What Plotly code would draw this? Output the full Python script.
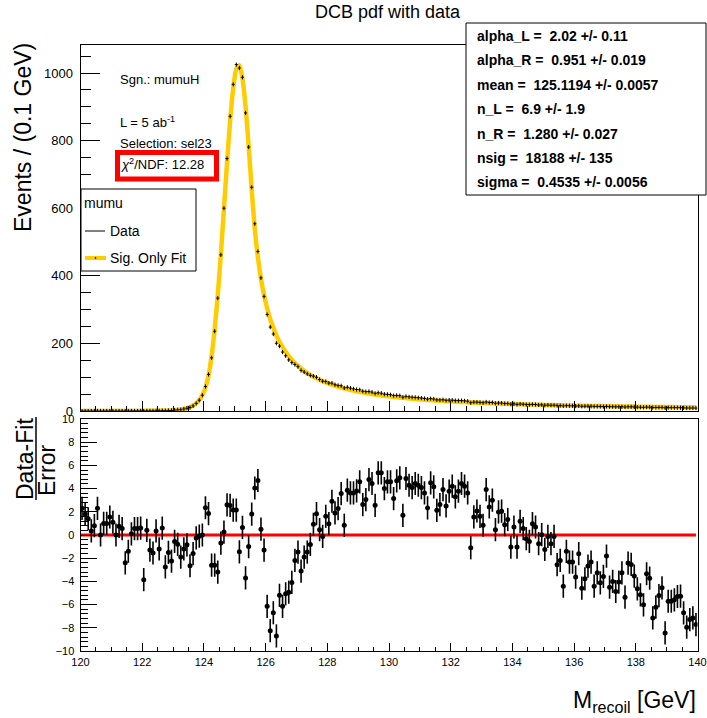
import plotly.graph_objects as go

W, H = 707, 718


def px(x):
    return x / W


def py(y):
    return 1 - y / H


# ---------------- data ----------------
BIN_LO = 120.0
BIN_W = 0.1
NBINS = 200
bin_centers = [round(BIN_LO + BIN_W * (i + 0.5), 3) for i in range(NBINS)]

data_counts = [
    0.05, 0.05, 0.05, 0.04, 0.05, 0.07, 0.05, 0.07, 0.08, 0.1,
    0.1, 0.09, 0.13, 0.14, 0.05, 0.1, 0.2, 0.25, 0.3, 0.35,
    0.1, 0.45, 0.4, 0.45, 0.8, 0.7, 1.25, 0.85, 1.4, 1.7,
    2.7, 3.4, 3.9, 5.9, 8.2, 10.2, 15.0, 22.5, 32.0, 46.7,
    72.5, 108.3, 157.3, 236, 334, 462, 600, 747, 872, 966.5,
    1025, 1015, 987.5, 882, 781, 662, 554, 472, 394, 339,
    285.5, 248.4, 227.8, 200.5, 192.1, 174.4, 163.4, 151.2, 143.2, 137.5,
    131.1, 120, 115.2, 109.8, 105.4, 103.2, 99.9, 93.2, 88.2, 87.2,
    82.7, 82.4, 77.8, 75.6, 74.6, 68.2, 70.2, 67.6, 65.4, 63.7,
    62.8, 58.5, 57.3, 57.9, 55.9, 52.1, 54.1, 52.7, 49.8, 49.4,
    48.2, 45.5, 46.2, 45.4, 40.8, 43.3, 41.8, 40.8, 40.3, 39.3,
    38.3, 37.1, 35.1, 36.6, 35.5, 32.9, 32.8, 33.4, 31.6, 32.2,
    32.0, 30.7, 30.6, 30.7, 30.0, 29.0, 24.4, 26.4, 26.4, 25.6,
    24.5, 26.7, 25.1, 25.2, 22.8, 23.6, 23.4, 22.1, 22.2, 20.0,
    21.0, 19.4, 20.8, 20.1, 19.2, 18.7, 19.6, 19.2, 17.8, 18.2,
    17.05, 17.6, 17.0, 17.2, 16.2, 16.1, 15.1, 16.0, 15.5, 15.3,
    14.65, 15.2, 14.0, 14.1, 14.3, 14.2, 13.4, 13.6, 13.2, 13.2,
    13.6, 12.65, 12.65, 12.3, 12.4, 12.5, 11.7, 12.5, 12.3, 11.9,
    11.4, 11.1, 10.8, 11.5, 11.2, 10.1, 10.3, 10.5, 10.6, 9.3,
    10.0, 9.9, 9.9, 9.85, 9.75, 9.25, 8.8, 8.9, 8.85, 8.6,
]

fit_values = [
    0.02, 0.02, 0.03, 0.03, 0.04, 0.04, 0.05, 0.05, 0.06, 0.07,
    0.08, 0.09, 0.1, 0.12, 0.14, 0.16, 0.19, 0.22, 0.26, 0.3,
    0.35, 0.42, 0.5, 0.6, 0.72, 0.9, 1.1, 1.4, 1.75, 2.2,
    2.86, 3.7, 4.85, 6.4, 8.64, 11.8, 16.1, 22.7, 32.1, 46.7,
    69.1, 105, 163, 243, 344, 465, 599, 735, 859, 955,
    1013, 1023, 984, 901, 786, 654, 538, 455, 392, 343,
    304, 272, 246, 223, 205, 189, 175, 162, 152, 142,
    134, 126, 118.8, 112.5, 106.8, 101.6, 96.8, 92.4, 88.4, 84.6,
    81.2, 77.9, 74.9, 72.2, 69.5, 67.0, 64.8, 62.6, 60.5, 58.6,
    56.8, 55.1, 53.4, 51.9, 50.4, 49.0, 47.7, 46.4, 45.2, 44.1,
    43.0, 42.0, 41.0, 40.0, 39.0, 38.1, 37.3, 36.5, 35.7, 34.9,
    34.2, 33.5, 32.8, 32.2, 31.5, 30.9, 30.3, 29.7, 29.2, 28.7,
    28.15, 27.7, 27.2, 26.7, 26.3, 25.8, 25.4, 25.0, 24.6, 24.2,
    23.8, 23.4, 23.1, 22.7, 22.4, 22.0, 21.7, 21.4, 21.1, 20.8,
    20.5, 20.2, 19.9, 19.7, 19.4, 19.15, 18.9, 18.65, 18.4, 18.2,
    17.95, 17.7, 17.5, 17.3, 17.1, 16.86, 16.66, 16.47, 16.28, 16.09,
    15.9, 15.72, 15.55, 15.38, 15.21, 15.04, 14.88, 14.72, 14.56, 14.4,
    14.24, 14.1, 13.95, 13.81, 13.66, 13.52, 13.39, 13.26, 13.12, 12.99,
    12.86, 12.74, 12.62, 12.5, 12.38, 12.26, 12.15, 12.04, 11.93, 11.82,
    11.71, 11.61, 11.51, 11.4, 11.3, 11.2, 11.1, 11.0, 10.91, 10.82,
]

pulls = [
    2.3, 1.8, 1.4, 0.35, 0.8, 2.3, 0.0, 1.0, 1.0, 1.55,
    1.1, 0.0, 0.75, 0.55, -2.4, -1.4, 0.1, 0.55, 0.55, 0.6,
    -3.85, 0.4, -1.3, -1.55, 0.35, -1.2, 0.6, -2.75, -1.5, -2.25,
    -0.55, -0.8, -1.9, -1.2, -0.85, -2.65, -1.6, -0.25, -0.1, 0.0,
    2.35, 1.85, -2.6, -2.6, -3.2, -0.7, 0.25, 2.6, 2.55, 2.15,
    2.15, -1.45, 0.65, -3.7, -1.0, 1.8, 4.05, 4.7, 0.5, -1.3,
    -6.15, -8.25, -6.7, -8.7, -5.2, -6.15, -5.07, -4.93, -4.09, -2.19,
    -1.47, -3.11, -1.9, -1.47, -0.81, 0.92, 1.84, 0.46, -0.12, 1.61,
    0.98, 2.91, 1.9, 2.28, 3.57, 0.84, 3.86, 3.63, 3.63, 3.8,
    4.58, 2.62, 3.05, 4.78, 4.44, 2.56, 5.36, 5.36, 4.0, 4.58,
    4.58, 3.14, 4.67, 4.93, 1.7, 4.87, 4.29, 4.09, 4.44, 4.29,
    4.09, 3.63, 2.33, 4.5, 4.15, 2.13, 2.62, 3.92, 2.51, 3.78,
    4.21, 3.29, 3.78, 4.44, 4.21, 3.63, -1.1, 1.56, 2.07, 1.61,
    0.84, 3.92, 2.42, 3.0, 0.46, 1.99, 2.05, 0.89, 1.33, -1.04,
    0.69, -1.04, 1.18, 0.55, -0.32, -0.55, 0.98, 0.69, -0.75, 0.03,
    -1.24, -0.12, -0.75, -0.12, -2.56, -2.19, -4.41, -1.41, -2.33, -2.33,
    -3.63, -1.61, -4.58, -3.78, -2.68, -2.33, -4.41, -3.26, -4.12, -3.57,
    -1.82, -4.5, -4.0, -4.87, -4.06, -3.26, -5.36, -2.42, -2.54, -3.54,
    -4.64, -5.16, -6.02, -3.34, -3.72, -7.15, -6.22, -5.22, -4.55, -8.44,
    -5.71, -5.71, -5.59, -5.3, -5.27, -6.71, -7.95, -7.29, -7.15, -7.72,
]
pull_errors = [1.0] * NBINS

zero_line_x = [120.0, 139.95]
zero_line_y = [0.0, 0.0]

stats_lines = [
    "alpha_L =\u00a0 2.02 +/- 0.11",
    "alpha_R =\u00a0 0.951 +/- 0.019",
    "mean =\u00a0 125.1194 +/- 0.0057",
    "n_L =\u00a0 6.9 +/- 1.9",
    "n_R =\u00a0 1.280 +/- 0.027",
    "nsig =\u00a0 18188 +/- 135",
    "sigma =\u00a0 0.4535 +/- 0.0056",
]

FONT = "Liberation Sans, Arial, Helvetica, sans-serif"
YELLOW = "#FFCC00"

fig = go.Figure()

# fit curve (top)
fig.add_trace(go.Scatter(
    x=bin_centers, y=fit_values, mode="lines",
    line=dict(color=YELLOW, width=4.5, shape="spline", smoothing=0.6),
    xaxis="x", yaxis="y", hoverinfo="skip", showlegend=False))

# data points (top)
fig.add_trace(go.Scatter(
    x=bin_centers, y=data_counts, mode="markers",
    marker=dict(symbol="line-ns-open", size=3, color="black",
                line=dict(width=1, color="black")),
    error_x=dict(type="constant", value=BIN_W / 2, width=0, thickness=1, color="black"),
    xaxis="x", yaxis="y", showlegend=False))

# zero line (bottom)
fig.add_trace(go.Scatter(
    x=zero_line_x, y=zero_line_y, mode="lines",
    line=dict(color="#FF0000", width=3),
    xaxis="x2", yaxis="y2", hoverinfo="skip", showlegend=False))

# pulls (bottom)
fig.add_trace(go.Scatter(
    x=bin_centers, y=pulls, mode="markers",
    marker=dict(symbol="circle", size=5, color="black"),
    error_y=dict(type="data", array=pull_errors, width=0, thickness=1.6, color="black"),
    xaxis="x2", yaxis="y2", showlegend=False))

axis_common = dict(showline=True, linecolor="black", linewidth=1, mirror=True,
                   showgrid=False, zeroline=False, ticks="inside",
                   tickcolor="black", tickwidth=1, automargin=False)

x_dom = [px(80.5), px(697.5)]

fig.update_layout(
    template="none",
    width=W, height=H,
    margin=dict(l=0, r=0, t=0, b=0, autoexpand=False),
    paper_bgcolor="white", plot_bgcolor="white",
    font=dict(family=FONT, color="black"),
    showlegend=False,
    xaxis=dict(domain=x_dom, range=[120, 140], anchor="y",
               tick0=120, dtick=2, ticklen=10, showticklabels=False,
               minor=dict(dtick=0.5, ticklen=5, ticks="inside", tickcolor="black"),
               **axis_common),
    yaxis=dict(domain=[py(411), py(45)], range=[0, 1083], anchor="x",
               tick0=0, dtick=200, ticklen=19,
               tickfont=dict(size=13, family=FONT), ticklabelstandoff=4,
               minor=dict(dtick=50, ticklen=10, ticks="inside", tickcolor="black"),
               **axis_common),
    xaxis2=dict(domain=x_dom, range=[120, 140], anchor="y2",
                tick0=120, dtick=2, ticklen=8,
                tickfont=dict(size=11, family=FONT), ticklabelstandoff=1,
                minor=dict(dtick=0.5, ticklen=4, ticks="inside", tickcolor="black"),
                **axis_common),
    yaxis2=dict(domain=[py(651), py(419)], range=[-10, 10], anchor="x2",
                tick0=-10, dtick=2, ticklen=16,
                tickfont=dict(size=11, family=FONT), ticklabelstandoff=3,
                minor=dict(dtick=0.4, ticklen=7, ticks="inside", tickcolor="black"),
                **axis_common),
)

shapes = []
annotations = []


def text(x, y, s, size, xanchor="left", yanchor="middle", angle=0, bold=False):
    if bold:
        s = "<b>" + s + "</b>"
    annotations.append(dict(
        x=px(x), y=py(y), xref="paper", yref="paper", text=s,
        showarrow=False, xanchor=xanchor, yanchor=yanchor, textangle=angle,
        font=dict(size=size, family=FONT, color="black"), borderpad=0))


# title
text(388, 12, "DCB pdf with data", 18, xanchor="center")

# stats box
shapes.append(dict(type="rect", xref="paper", yref="paper",
                   x0=px(466), x1=px(706), y0=py(195), y1=py(23),
                   line=dict(color="black", width=1), fillcolor="white", layer="above"))
for k, s in enumerate(stats_lines):
    text(476, 36 + 24.4 * k, s, 14, bold=True)

# info text
text(119, 80, "Sgn.: mumuH", 13)
text(119, 122, "L = 5 ab<sup>-1</sup>", 13)
text(119, 143, "Selection: sel23", 13)
shapes.append(dict(type="rect", xref="paper", yref="paper",
                   x0=px(117.5), x1=px(216.5), y0=py(179), y1=py(152.5),
                   line=dict(color="#FF0000", width=5), fillcolor="rgba(0,0,0,0)", layer="above"))
text(120, 164, "<i>χ</i><sup>2</sup>/NDF: 12.28", 13)

# legend
shapes.append(dict(type="rect", xref="paper", yref="paper",
                   x0=px(81), x1=px(196), y0=py(271), y1=py(189),
                   line=dict(color="black", width=1), fillcolor="white", layer="above"))
text(83, 203, "mumu", 14)
shapes.append(dict(type="line", xref="paper", yref="paper",
                   x0=px(85), x1=px(105), y0=py(231), y1=py(231),
                   line=dict(color="black", width=1), layer="above"))
text(109, 231, "Data", 14)
shapes.append(dict(type="line", xref="paper", yref="paper",
                   x0=px(85), x1=px(106), y0=py(258), y1=py(258),
                   line=dict(color=YELLOW, width=4), layer="above"))
shapes.append(dict(type="rect", xref="paper", yref="paper",
                   x0=px(95), x1=px(96), y0=py(258.5), y1=py(257.5),
                   line=dict(color="black", width=0.5), fillcolor="black", layer="above"))
text(109, 258, "Sig. Only Fit", 14)

# axis titles
text(23, 138, "Events / (0.1 GeV)", 23, xanchor="center", angle=-90)
text(25, 459, "Data-Fit", 23, xanchor="center", angle=-90)
shapes.append(dict(type="line", xref="paper", yref="paper",
                   x0=px(36), x1=px(36), y0=py(417), y1=py(500),
                   line=dict(color="black", width=1.5)))
text(47, 471, "Error", 23, xanchor="center", angle=-90)
text(697, 701, "M<sub>recoil</sub> [GeV]", 23, xanchor="right")

fig.update_layout(shapes=shapes, annotations=annotations)

fig.write_html("out.html")
